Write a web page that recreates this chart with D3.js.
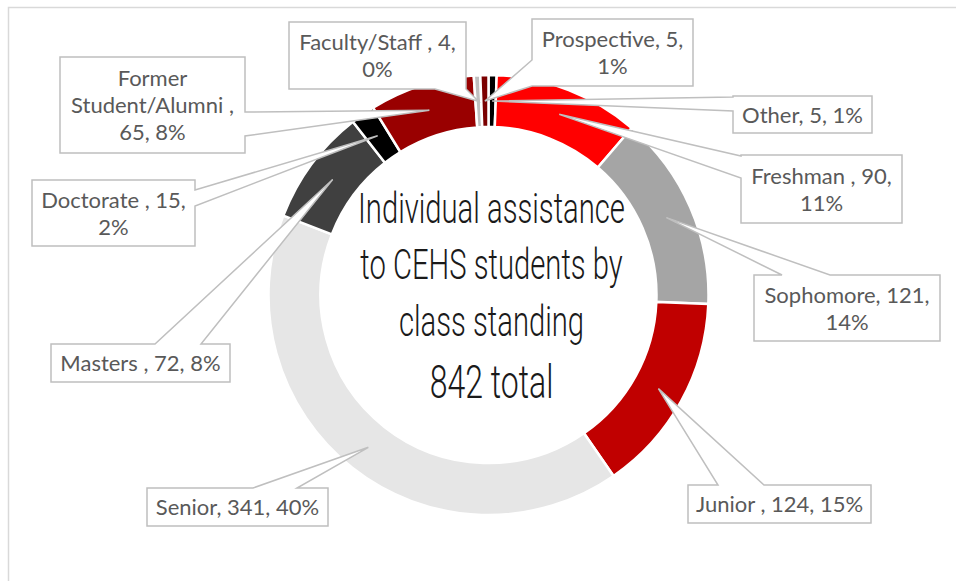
<!doctype html>
<html>
    <head>
        <meta charset="utf-8">
        <title>CEHS class standing</title>
        <script src="https://d3js.org/d3.v7.min.js"></script>
        <style>
            body { margin: 0; background: #fff; }
            .lbl { font-family: Lato, "Open Sans", sans-serif; font-size: 22px; fill: #595959; }
            .ttl { font-family: Roboto, sans-serif; font-weight: 300; fill: #1a1a1a; }
        </style>
    </head>
    <body>
        <div id="my_dataviz"></div>

        <script>
            // data (clockwise from 12 o'clock)
            var categories = ["Other", "Freshman ", "Sophomore", "Junior ", "Senior", "Masters ",
                              "Doctorate ", "Former Student/Alumni ", "Faculty/Staff ", "Prospective"];
            var counts = [5, 90, 121, 124, 341, 72, 15, 65, 4, 5];
            var pctLabels = ["1%", "11%", "14%", "15%", "40%", "8%", "2%", "8%", "0%", "1%"];
            var titleLines = ["Individual assistance", "to CEHS students by", "class standing"];
            var totalLabel = d3.sum(counts) + " total";

            // how the label words are split onto lines
            var wordsPerLine = [[3], [3, 1], [2, 1], [4], [3], [4], [3, 1], [1, 2, 2], [3, 1], [2, 1]];

            var colors = ["#000000", "#FF0000", "#A5A5A5", "#C00000", "#E6E6E6",
                          "#404040", "#000000", "#990000", "#BFBFBF", "#7B0000"];

            // callout boxes: position, side the pointer leaves from, pointer base
            var callouts = [
                {x: 733, y: 96,  w: 139, h: 37, side: "left",   a: [97, 111]},
                {x: 741, y: 155, w: 161, h: 68, side: "left",   a: [156, 178]},
                {x: 754, y: 275, w: 186, h: 66, side: "top",    a: [782, 830]},
                {x: 688, y: 485, w: 183, h: 38, side: "top",    a: [718, 764]},
                {x: 147, y: 488, w: 181, h: 38, side: "top",    a: [253, 297]},
                {x: 51,  y: 344, w: 179, h: 38, side: "top",    a: [155, 201]},
                {x: 32,  y: 180, w: 163, h: 66, side: "right",  a: [190, 206]},
                {x: 60,  y: 57,  w: 185, h: 96, side: "right",  a: [112, 136]},
                {x: 289, y: 22,  w: 177, h: 67, side: "bottom", a: [435, 466]},
                {x: 532, y: 19,  w: 161, h: 67, side: "left",   a: [60, 86]}
            ];

            var width = 956, height = 581;
            var cx = 488.5, cy = 295, outerR = 220, innerR = 168;

            var svg = d3.select("#my_dataviz")
                .append("svg")
                    .attr("width", width)
                    .attr("height", height);

            // chart area border
            svg.append("rect")
                .attr("x", 8.5).attr("y", 7.5)
                .attr("width", 1000).attr("height", 1000)
                .attr("fill", "none")
                .attr("stroke", "#D9D9D9")
                .attr("stroke-width", 1.5);

            var pie = d3.pie().sort(null).value(function(d) { return d; });
            var arcs = pie(counts);

            var arc = d3.arc().innerRadius(innerR).outerRadius(outerR);

            var g = svg.append("g")
                .attr("transform", "translate(" + cx + "," + cy + ")");

            g.selectAll("path")
                .data(arcs)
                .enter()
                .append("path")
                    .attr("d", arc)
                    .attr("fill", function(d, i) { return colors[i]; })
                    .attr("stroke", "#fff")
                    .attr("stroke-width", 2.5);

            // callout shape = box with a wedge going to the slice centroid
            function calloutPath(c, tip) {
                var x0 = c.x, y0 = c.y, x1 = c.x + c.w, y1 = c.y + c.h;
                var pts = [[x0, y0]];
                if (c.side == "top") pts.push([c.a[0], y0], tip, [c.a[1], y0]);
                pts.push([x1, y0]);
                if (c.side == "right") pts.push([x1, c.a[0]], tip, [x1, c.a[1]]);
                pts.push([x1, y1]);
                if (c.side == "bottom") pts.push([c.a[1], y1], tip, [c.a[0], y1]);
                pts.push([x0, y1]);
                if (c.side == "left") pts.push([x0, c.a[1]], tip, [x0, c.a[0]]);
                return "M" + pts.map(function(p) { return p[0] + "," + p[1]; }).join("L") + "Z";
            }

            var labels = svg.append("g");

            arcs.forEach(function(d, i) {
                var cen = arc.centroid(d);
                var tip = [cx + cen[0], cy + cen[1]];
                var c = callouts[i];

                labels.append("path")
                    .attr("d", calloutPath(c, tip))
                    .attr("fill", "#fff")
                    .attr("stroke", "#BFBFBF")
                    .attr("stroke-width", 1.5)
                    .attr("stroke-linejoin", "miter");

                // label text = category, value, percent, wrapped as in the chart
                var words = (categories[i] + ", " + counts[i] + ", " + pctLabels[i]).split(" ");
                var lines = [], k = 0;
                wordsPerLine[i].forEach(function(n) {
                    lines.push(words.slice(k, k + n).join(" "));
                    k += n;
                });
                if (k < words.length) lines[lines.length - 1] += " " + words.slice(k).join(" ");

                var lh = 27;
                var y0 = c.y + c.h / 2 - (lines.length - 1) * lh / 2 + 8;
                var t = labels.append("text")
                    .attr("class", "lbl")
                    .attr("text-anchor", "middle");
                lines.forEach(function(s, j) {
                    t.append("tspan")
                        .attr("x", c.x + c.w / 2)
                        .attr("y", y0 + j * lh)
                        .text(s);
                });
            });

            // centre title, drawn in a condensed look
            var tg = svg.append("g");
            var baselines = [223, 279, 336];
            titleLines.forEach(function(s, j) {
                tg.append("text")
                    .attr("class", "ttl")
                    .attr("text-anchor", "middle")
                    .attr("x", 0)
                    .attr("y", baselines[j])
                    .style("font-size", "42px")
                    .text(s);
            });
            tg.append("text")
                .attr("class", "ttl")
                .attr("text-anchor", "middle")
                .attr("x", 0)
                .attr("y", 398)
                .style("font-size", "46px")
                .text(totalLabel);

            var w1 = tg.select("text").node().getComputedTextLength();
            var sx = 267 / w1;
            tg.attr("transform", "translate(491.5,0) scale(" + sx + ",1)");
        </script>
    </body>
</html>
